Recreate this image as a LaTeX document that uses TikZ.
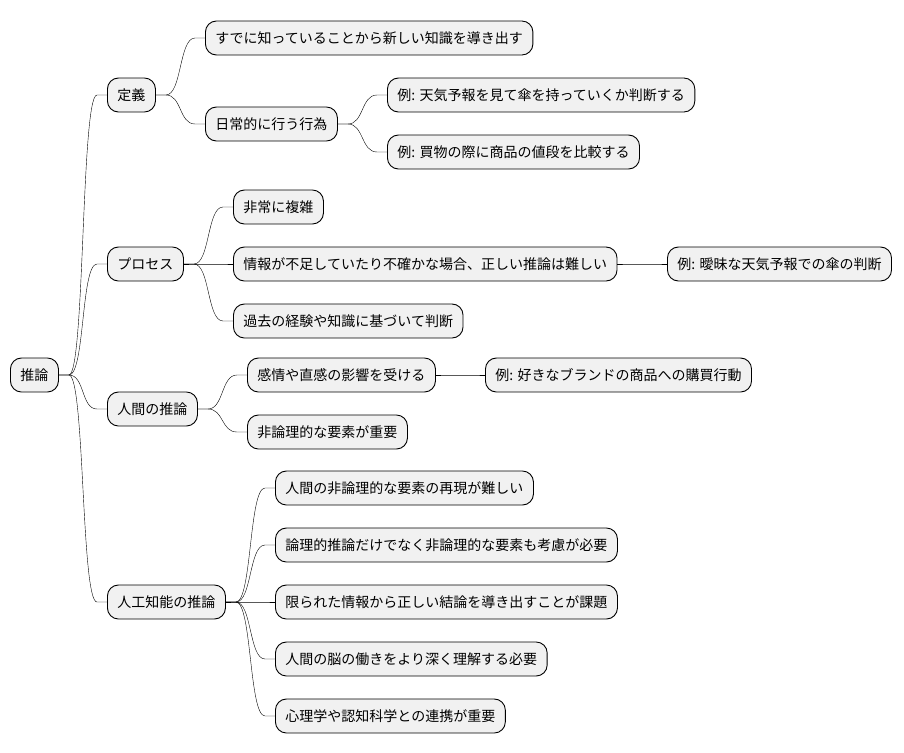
\documentclass[tikz,border=0pt]{standalone}
\usepackage{fontspec}
\setmainfont{Noto Sans CJK JP}
\definecolor{ideafill}{HTML}{F1F1F1}

\begin{document}
\begin{tikzpicture}[x=1pt, y=-1pt,
    idea/.style={draw, fill=ideafill, line width=0.9pt, rounded corners=11pt, anchor=west,
                 minimum height=34pt, inner xsep=10pt, inner ysep=0pt,
                 font=\fontsize{14}{16}\selectfont},
    branch/.style={line width=0.8pt, to path={-- ++(10,0) .. controls +(16,0) and +(-16,0) .. ([xshift=-10pt]\tikztotarget) -- (\tikztotarget)}}
  ]
  \useasboundingbox (0,0) rectangle (904,752);
  \draw
      ( 10, 375) node[idea](root){推論}
      (107,  95) node[idea](teigi){定義}
      (205,  38) node[idea](kizon){すでに知っていることから新しい知識を導き出す}
      (205, 124) node[idea](nichijo){日常的に行う行為}
      (387,  95) node[idea](tenki){例: 天気予報を見て傘を持っていくか判断する}
      (387, 152) node[idea](kaimono){例: 買物の際に商品の値段を比較する}
      (107, 264) node[idea](process){プロセス}
      (233, 207) node[idea](fukuzatsu){非常に複雑}
      (233, 264) node[idea](fusoku){情報が不足していたり不確かな場合、正しい推論は難しい}
      (667, 264) node[idea](aimai){例: 曖昧な天気予報での傘の判断}
      (233, 321) node[idea](keiken){過去の経験や知識に基づいて判断}
      (107, 409) node[idea](ningen){人間の推論}
      (247, 375) node[idea](kanjo){感情や直感の影響を受ける}
      (485, 375) node[idea](brand){例: 好きなブランドの商品への購買行動}
      (247, 432) node[idea](hironri){非論理的な要素が重要}
      (107, 602) node[idea](ai){人工知能の推論}
      (275, 488) node[idea](saigen){人間の非論理的な要素の再現が難しい}
      (275, 545) node[idea](koryo){論理的推論だけでなく非論理的な要素も考慮が必要}
      (275, 602) node[idea](kadai){限られた情報から正しい結論を導き出すことが課題}
      (275, 659) node[idea](nou){人間の脳の働きをより深く理解する必要}
      (275, 716) node[idea](renkei){心理学や認知科学との連携が重要}
  ;
  % first level
  \draw (root.east)    to[branch] (teigi.west);
  \draw (root.east)    to[branch] (process.west);
  \draw (root.east)    to[branch] (ningen.west);
  \draw (root.east)    to[branch] (ai.west);
  % definition
  \draw (teigi.east)   to[branch] (kizon.west);
  \draw (teigi.east)   to[branch] (nichijo.west);
  \draw (nichijo.east) to[branch] (tenki.west);
  \draw (nichijo.east) to[branch] (kaimono.west);
  % process
  \draw (process.east) to[branch] (fukuzatsu.west);
  \draw (process.east) to[branch] (fusoku.west);
  \draw (process.east) to[branch] (keiken.west);
  \draw (fusoku.east)  to[branch] (aimai.west);
  % human reasoning
  \draw (ningen.east)  to[branch] (kanjo.west);
  \draw (ningen.east)  to[branch] (hironri.west);
  \draw (kanjo.east)   to[branch] (brand.west);
  % AI reasoning
  \draw (ai.east)      to[branch] (saigen.west);
  \draw (ai.east)      to[branch] (koryo.west);
  \draw (ai.east)      to[branch] (kadai.west);
  \draw (ai.east)      to[branch] (nou.west);
  \draw (ai.east)      to[branch] (renkei.west);
\end{tikzpicture}
\end{document}
